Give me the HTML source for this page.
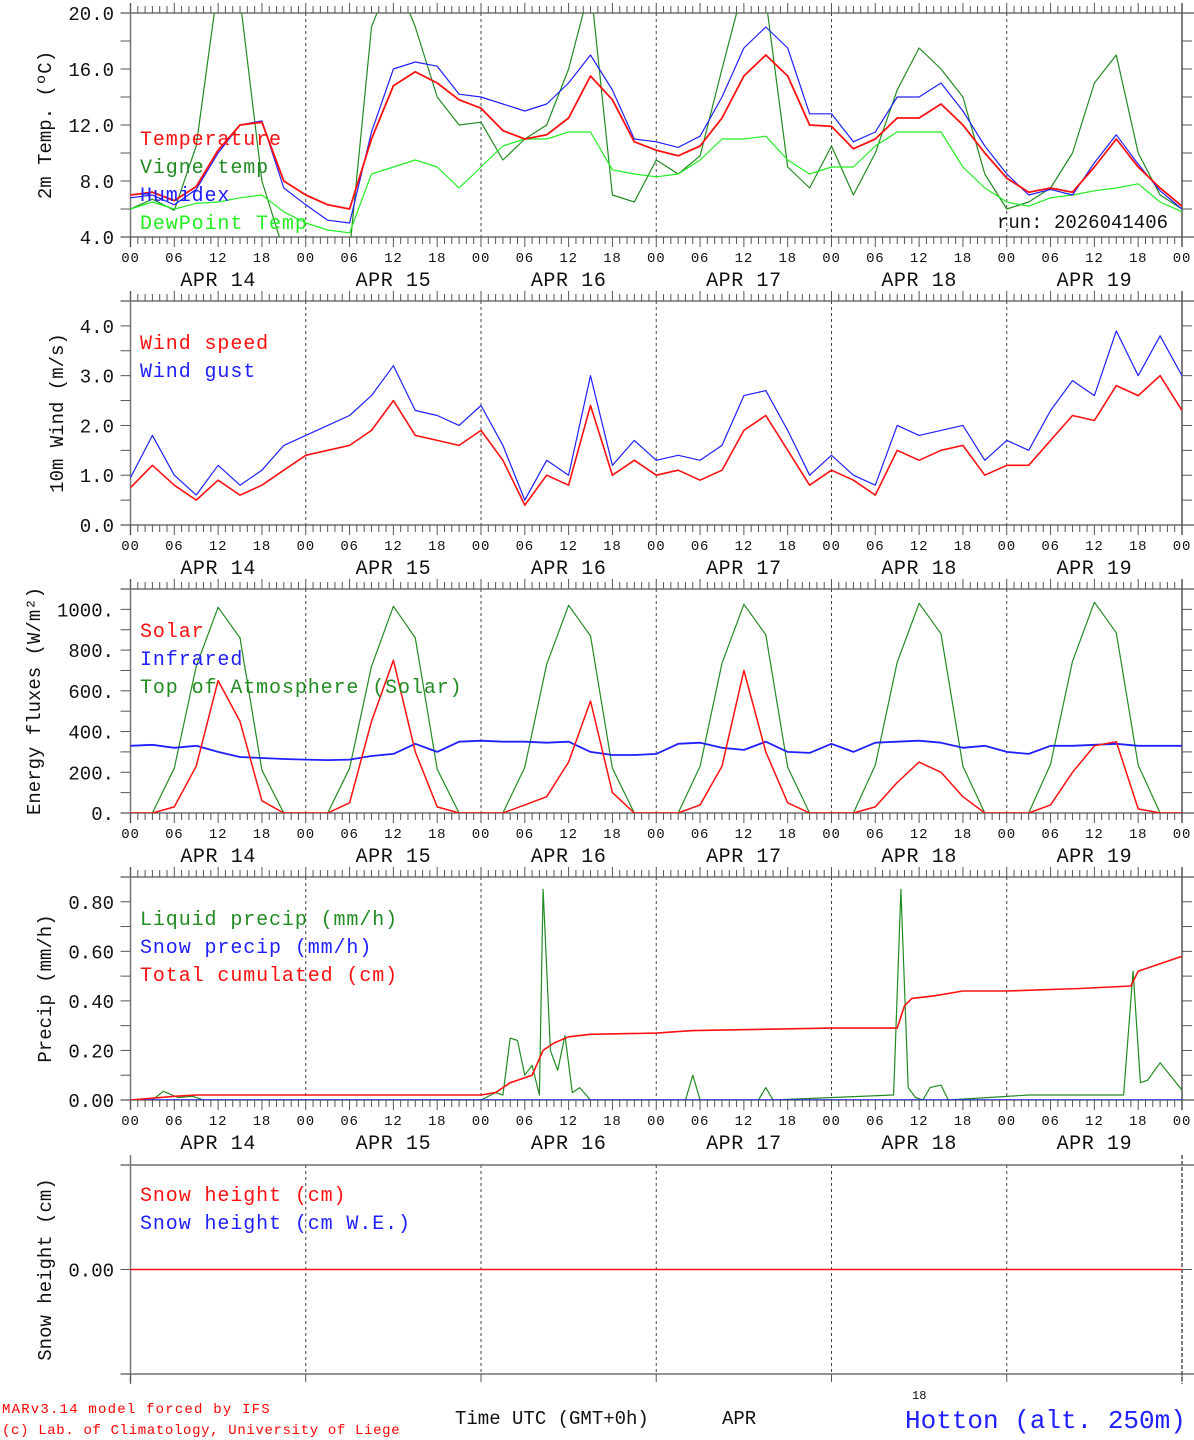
<!DOCTYPE html>
<html><head><meta charset="utf-8"><style>
html,body{margin:0;padding:0;background:#fff;}
svg{display:block;font-family:"Liberation Mono","DejaVu Sans Mono",monospace;}
</style></head><body>
<svg id="chart" width="1194" height="1440" viewBox="0 0 1194 1440" xmlns="http://www.w3.org/2000/svg">
<g id="root"></g>
<text x="2" y="1413" font-size="14" letter-spacing="1.2" fill="#ff0000">MARv3.14 model forced by IFS</text>
<text x="2" y="1434" font-size="14" letter-spacing="0.65" fill="#ff0000">(c) Lab. of Climatology, University of Liege</text>
<text x="455" y="1424" font-size="19" fill="#111">Time UTC (GMT+0h)</text>
<text x="722" y="1424" font-size="19" fill="#111">APR</text>
<text x="912" y="1399" font-size="12" fill="#111">18</text>
<text x="905" y="1428" font-size="26" fill="#2020ff">Hotton (alt. 250m)</text>
</svg>
<script>
// ---- data (3-hourly, hours 0..144) ----
const temp=[7.0,7.2,6.6,7.6,10.2,12.0,12.2,8.0, 7.0,6.3,6.0,11.0,14.8,15.8,15.0,13.8, 13.2,11.6,11.0,11.3,12.5,15.5,13.8,10.8, 10.2,9.8,10.5,12.5,15.5,17.0,15.5,12.0, 11.9,10.3,11.0,12.5,12.5,13.5,12.0,10.0, 8.2,7.2,7.5,7.2,9.0,11.0,9.0,7.5, 6.2];
const humidex=[6.8,7.0,6.3,7.4,10.0,12.0,12.3,7.5, 6.3,5.2,5.0,11.5,16.0,16.5,16.2,14.2, 14.0,13.5,13.0,13.5,15.0,17.0,14.5,11.0, 10.8,10.4,11.2,14.0,17.5,19.0,17.5,12.8, 12.8,10.8,11.5,14.0,14.0,15.0,13.0,10.5, 8.5,7.0,7.4,7.0,9.3,11.3,9.2,7.3, 6.0];
const vigne=[6.0,6.7,5.9,10.5,22,21,8,3.0, 2.5,2.5,3.0,19,23,19,14,12, 12.2,9.5,11,12,16,22,7,6.5, 9.5,8.5,9.8,16,22,21,9,7.5, 10.5,7.0,10,14.5,17.5,16,14,8.5, 6.0,6.5,7.5,10,15,17,10,7, 6.0];
const dewpoint=[6.0,6.5,6.0,6.4,6.5,6.8,7.0,5.8, 5.0,4.5,4.3,8.5,9.0,9.5,9.0,7.5, 9.0,10.5,11.0,11.0,11.5,11.5,8.8,8.5, 8.3,8.5,9.5,11.0,11.0,11.2,9.5,8.5, 9.0,9.0,10.5,11.5,11.5,11.5,9.0,7.5, 6.5,6.2,6.8,7.0,7.3,7.5,7.8,6.5, 5.8];
const windSpeed=[0.75,1.2,0.8,0.5,0.9,0.6,0.8,1.1, 1.4,1.5,1.6,1.9,2.5,1.8,1.7,1.6, 1.9,1.3,0.4,1.0,0.8,2.4,1.0,1.3, 1.0,1.1,0.9,1.1,1.9,2.2,1.5,0.8, 1.1,0.9,0.6,1.5,1.3,1.5,1.6,1.0, 1.2,1.2,1.7,2.2,2.1,2.8,2.6,3.0, 2.3];
const windGust=[0.95,1.8,1.0,0.6,1.2,0.8,1.1,1.6, 1.8,2.0,2.2,2.6,3.2,2.3,2.2,2.0, 2.4,1.6,0.5,1.3,1.0,3.0,1.2,1.7, 1.3,1.4,1.3,1.6,2.6,2.7,1.9,1.0, 1.4,1.0,0.8,2.0,1.8,1.9,2.0,1.3, 1.7,1.5,2.3,2.9,2.6,3.9,3.0,3.8, 3.0];
const toaSolar=[0,0,220,720,1010,860,210,0, 0,0,220,720,1015,860,215,0, 0,0,225,730,1020,870,220,0, 0,0,230,735,1025,875,225,0, 0,0,235,740,1030,880,230,0, 0,0,240,745,1035,885,235,0, 0];
const solar=[0,0,30,230,650,450,60,0, 0,0,50,450,750,300,30,0, 0,0,40,80,250,550,100,0, 0,0,40,230,700,300,50,0, 0,0,30,150,250,200,80,0, 0,0,40,200,330,350,20,0, 0];
const infrared=[330,335,320,330,300,275,270,265, 262,260,262,280,290,340,300,350, 355,350,350,345,350,300,285,285, 290,340,345,320,310,350,300,295, 340,300,345,350,355,345,320,330, 300,290,330,330,335,340,330,330, 330];
const liquidHours=[0,3,4.5,6.5,8.5,10,48,50,51,52,53,54,55,56,56.5,57.5,58.5,59.5,60.5,61.5,63,76,77,78,86,87,88,104.5,105.5,106.5,107.5,108.5,109.5,111,112,123,125,130,136,137.3,138.3,139.3,141,144];
const liquidVals=[0,0,0.035,0.01,0.015,0,0,0.03,0.02,0.25,0.24,0.1,0.14,0.02,0.85,0.2,0.12,0.26,0.03,0.05,0,0,0.1,0,0,0.05,0,0.02,0.85,0.05,0.01,0,0.05,0.06,0,0.02,0.02,0.02,0.02,0.52,0.07,0.08,0.15,0.04];
const cumHours=[0,6,9,48,50,52,55,56.5,58,60,63,72,77,96,105,106,107,110,114,120,130,137,138,141,144];
const cumVals=[0,0.015,0.02,0.02,0.03,0.07,0.1,0.2,0.23,0.255,0.265,0.27,0.28,0.29,0.29,0.38,0.41,0.42,0.44,0.44,0.45,0.46,0.52,0.55,0.58];
const snowHours=[0,144];
const snowHeight=[0,0];
const snowWE=[0,0];
const dayLabels=["APR 14","APR 15","APR 16","APR 17","APR 18","APR 19"];
const hourLabels=["00","06","12","18"];

// ---- layout ----
const NS="http://www.w3.org/2000/svg";
const root=document.getElementById('root');
const X0=130.5,X1=1182;
const x=h=>X0+h*(X1-X0)/144;
function el(tag,attrs,parent){const e=document.createElementNS(NS,tag);for(const k in attrs)e.setAttribute(k,attrs[k]);(parent||root).appendChild(e);return e;}
const H3=temp.map((_,i)=>i*3);

const panels=[
 {name:'temperature',top:13,bot:237,ymin:4,ymax:20,labels:[4,8,12,16,20],fmt:v=>v.toFixed(1),minor:2,title:'2m Temp. (ºC)',tx:46,axis:true},
 {name:'wind',top:301,bot:525,ymin:0,ymax:4.5,labels:[0,1,2,3,4],fmt:v=>v.toFixed(1),minor:0.5,title:'10m Wind (m/s)',tx:58,axis:true},
 {name:'energy',top:589,bot:813,ymin:0,ymax:1100,labels:[0,200,400,600,800,1000],fmt:v=>v.toFixed(0)+'.',minor:100,title:'Energy fluxes (W/m²)',tx:35,axis:true},
 {name:'precip',top:877,bot:1100,ymin:0,ymax:0.9,labels:[0,0.2,0.4,0.6,0.8],fmt:v=>v.toFixed(2),minor:0.1,title:'Precip (mm/h)',tx:46,axis:true},
 {name:'snow',top:1165,bot:1374,ymin:-1,ymax:1,labels:[0],fmt:v=>v.toFixed(2),minor:null,title:'Snow height (cm)',tx:46,axis:false}
];

panels.forEach((p,pi)=>{
 const g=el('g',{});
 
 
 const y=v=>p.bot-(v-p.ymin)*(p.bot-p.top)/(p.ymax-p.ymin);
 p.y=y; p.g=g;
 const cp=el('clipPath',{id:'clip'+pi},g);
 el('rect',{x:X0,y:p.top,width:X1-X0,height:p.bot-p.top},cp);
 for(let d=1;d<6;d++){const l=el('line',{x1:x(d*24),x2:x(d*24),y1:p.top,y2:p.bot,stroke:'#444','stroke-width':1,'stroke-dasharray':'3,3'},g);
  }
 el('line',{x1:X0-10,x2:1194,y1:p.top,y2:p.top,stroke:'#555','stroke-width':1.3},g);
 el('line',{x1:X0-10,x2:1194,y1:p.bot,y2:p.bot,stroke:'#555','stroke-width':1.3},g);
 el('line',{x1:X0,x2:X0,y1:p.top-10,y2:p.bot+10,stroke:'#777','stroke-width':1.5},g);
 el('line',{x1:X1,x2:X1,y1:p.top-10,y2:p.bot+10,stroke:'#555','stroke-width':1.5,'stroke-dasharray':p.axis?'':'4,2'},g);
 if(p.axis){
  for(let h=0;h<=144;h++){
   const major=h%6===0; const len=major?10:7;
   el('line',{x1:x(h),x2:x(h),y1:p.top-len,y2:p.top,stroke:'#555','stroke-width':1},g);
   el('line',{x1:x(h),x2:x(h),y1:p.bot,y2:p.bot+len,stroke:'#555','stroke-width':1},g);
   if(major){const t=el('text',{x:x(h),y:p.bot+25,'font-size':14,'letter-spacing':0.8,'text-anchor':'middle',fill:'#111'},g);t.textContent=hourLabels[(h/6)%4];
    }
  }
  dayLabels.forEach((dl,d)=>{const t=el('text',{x:x(d*24+12),y:p.bot+49,'font-size':20,'letter-spacing':0.6,'text-anchor':'middle',fill:'#111'},g);t.textContent=dl;
   });
  for(let v=p.ymin;v<=p.ymax+1e-9;v+=p.minor){el('line',{x1:X0-10,x2:X0,y1:y(v),y2:y(v),stroke:'#555','stroke-width':1},g);
   el('line',{x1:X1,x2:X1+10,y1:y(v),y2:y(v),stroke:'#555','stroke-width':1},g);}
 } else {
  for(let d=0;d<=6;d++){el('line',{x1:x(d*24),x2:x(d*24),y1:p.bot,y2:p.bot+8,stroke:'#555'},g);}
  el('line',{x1:X0-10,x2:X0,y1:y(0),y2:y(0),stroke:'#555'},g);
  el('line',{x1:X1,x2:X1+10,y1:y(0),y2:y(0),stroke:'#555'},g);
 }
 p.labels.forEach(v=>{const t=el('text',{x:114,y:y(v)+7,'font-size':19,'text-anchor':'end',fill:'#111'},g);t.textContent=p.fmt(v);
  });
 const cy=(p.top+p.bot)/2;
 const tt=el('text',{x:p.tx,y:cy,'font-size':19,'text-anchor':'middle',fill:'#111',transform:`rotate(-90 ${p.tx} ${cy})`,'dominant-baseline':'central'},g);
 tt.textContent=p.title;
 
});

function series(p,hours,vals,color,w,name){
 const pts=hours.map((h,i)=>x(h).toFixed(1)+','+p.y(vals[i]).toFixed(1)).join(' ');
 const l=el('polyline',{points:pts,fill:'none',stroke:color,'stroke-width':w,'clip-path':`url(#clip${panels.indexOf(p)})`,'stroke-linejoin':'round'},p.g);
 
 
}
function legend(p,items,y0){
 items.forEach((it,i)=>{const t=el('text',{x:140,y:y0+i*28,'font-size':20,'letter-spacing':0.9,fill:it[1]},p.g);t.textContent=it[0];
  });
}
const [P1,P2,P3,P4,P5]=panels;
series(P1,H3,vigne,'#228b22',1.2,'vigne-temp-line');
series(P1,H3,dewpoint,'#22ee22',1.2,'dewpoint-line');
series(P1,H3,humidex,'#2020ff',1.2,'humidex-line');
series(P1,H3,temp,'#ff1010',1.8,'temperature-line');
legend(P1,[['Temperature','#ff1010'],['Vigne temp','#228b22'],['Humidex','#2020ff'],['DewPoint Temp','#22ee22']],145);
const run=el('text',{x:1168,y:228,'font-size':19,'text-anchor':'end',fill:'#111'},P1.g);run.textContent='run: 2026041406';


series(P2,H3,windGust,'#2020ff',1.2,'wind-gust-line');
series(P2,H3,windSpeed,'#ff1010',1.6,'wind-speed-line');
legend(P2,[['Wind speed','#ff1010'],['Wind gust','#2020ff']],349);

series(P3,H3,toaSolar,'#228b22',1.2,'toa-solar-line');
series(P3,H3,infrared,'#2020ff',1.8,'infrared-line');
series(P3,H3,solar,'#ff1010',1.5,'solar-line');
legend(P3,[['Solar','#ff1010'],['Infrared','#2020ff'],['Top of Atmosphere (Solar)','#228b22']],637);

series(P4,liquidHours,liquidVals,'#228b22',1.2,'liquid-precip-line');
series(P4,[0,144],[0,0],'#2020ff',1.5,'snow-precip-line');
series(P4,cumHours,cumVals,'#ff1010',1.6,'cumulated-precip-line');
legend(P4,[['Liquid precip (mm/h)','#228b22'],['Snow precip (mm/h)','#2020ff'],['Total cumulated (cm)','#ff1010']],925);

series(P5,snowHours,snowWE,'#2020ff',0.8,'snow-we-line');
series(P5,snowHours,snowHeight,'#ff1010',1.6,'snow-height-line');
legend(P5,[['Snow height (cm)','#ff1010'],['Snow height (cm W.E.)','#2020ff']],1201);
</script>
</body></html>
